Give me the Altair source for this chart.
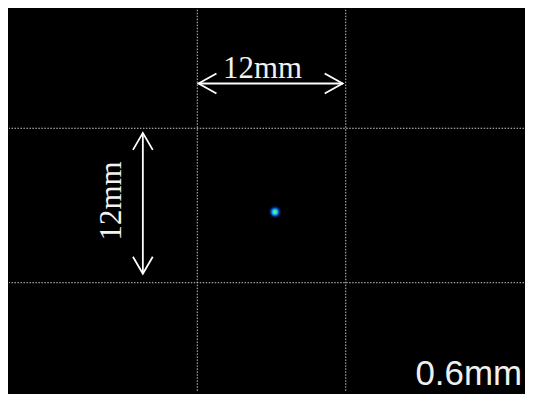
import altair as alt
import pandas as pd

# grid positions (mm)
grid_x = [-6, 6]
grid_y = [-6, 6]

# beam spot (mm)
spot_x = [0.28]
spot_y = [-0.50]

# horizontal 12mm arrow (mm)
h_arrow_x = [-5.9, 5.75]
h_arrow_y = 9.48
h_head_dx = 1.45
h_head_dy = 0.78

# vertical 12mm arrow (mm)
v_arrow_x = -10.4
v_arrow_y = [-5.3, 5.64]
v_head_dx = 0.8
v_head_dy = 1.32

labels_text = ["12mm", "12mm", "0.6mm"]
labels_x = [-0.73, -12.9, 20.25]
labels_y = [9.87, 0.35, -13.97]

X_DOM = [-21.22, 20.41]
Y_DOM = [-14.51, 15.21]

xs = alt.Scale(domain=X_DOM, nice=False, zero=False)
ys = alt.Scale(domain=Y_DOM, nice=False, zero=False)

# grid rules
vgrid = alt.Chart(pd.DataFrame({"x": grid_x})).mark_rule(
    color="#c8c8c8", strokeDash=[1.5, 1.5], strokeWidth=1
).encode(x=alt.X("x:Q", scale=xs, axis=None))
hgrid = alt.Chart(pd.DataFrame({"y": grid_y})).mark_rule(
    color="#c8c8c8", strokeDash=[1.5, 1.5], strokeWidth=1
).encode(y=alt.Y("y:Q", scale=ys, axis=None))

# arrows as line segments
segs = []
x0, x1 = h_arrow_x
y = h_arrow_y
segs += [("h", x0, y, 0), ("h", x1, y, 1)]
segs += [("hl", x0 + h_head_dx, y + h_head_dy, 0), ("hl", x0, y, 1), ("hl", x0 + h_head_dx, y - h_head_dy, 2)]
segs += [("hr", x1 - h_head_dx, y + h_head_dy, 0), ("hr", x1, y, 1), ("hr", x1 - h_head_dx, y - h_head_dy, 2)]
xv = v_arrow_x
y0, y1 = v_arrow_y
segs += [("v", xv, y0, 0), ("v", xv, y1, 1)]
segs += [("vt", xv - v_head_dx, y1 - v_head_dy, 0), ("vt", xv, y1, 1), ("vt", xv + v_head_dx, y1 - v_head_dy, 2)]
segs += [("vb", xv - v_head_dx, y0 + v_head_dy, 0), ("vb", xv, y0, 1), ("vb", xv + v_head_dx, y0 + v_head_dy, 2)]
seg_df = pd.DataFrame(segs, columns=["id", "x", "y", "o"])

arrows = alt.Chart(seg_df).mark_line(color="white", strokeWidth=1.8).encode(
    x=alt.X("x:Q", scale=xs, axis=None),
    y=alt.Y("y:Q", scale=ys, axis=None),
    detail="id:N",
    order="o:Q",
)

lab_df = pd.DataFrame({"t": labels_text, "x": labels_x, "y": labels_y})
htext = alt.Chart(lab_df.iloc[[0]]).mark_text(
    font="Liberation Serif", fontSize=31, color="#f2f2f2", align="center", baseline="alphabetic"
).encode(x=alt.X("x:Q", scale=xs, axis=None), y=alt.Y("y:Q", scale=ys, axis=None), text="t:N")
vtext = alt.Chart(lab_df.iloc[[1]]).mark_text(
    font="Liberation Serif", fontSize=31, color="#f2f2f2", align="center", baseline="middle", angle=270
).encode(x=alt.X("x:Q", scale=xs, axis=None), y=alt.Y("y:Q", scale=ys, axis=None), text="t:N")
stext = alt.Chart(lab_df.iloc[[2]]).mark_text(
    font="Liberation Sans", fontSize=35, color="#f0f0f0", align="right", baseline="alphabetic"
).encode(x=alt.X("x:Q", scale=xs, axis=None), y=alt.Y("y:Q", scale=ys, axis=None), text="t:N")

spot_df = pd.DataFrame({"x": spot_x, "y": spot_y})
def spot(size, color, opacity):
    return alt.Chart(spot_df).mark_circle(size=size, color=color, opacity=opacity).encode(
        x=alt.X("x:Q", scale=xs, axis=None), y=alt.Y("y:Q", scale=ys, axis=None)
    )

spot_layers = [spot(150, "#001a60", 0.6), spot(90, "#0040b0", 0.85), spot(55, "#0080ff", 1.0),
               spot(30, "#20c0c0", 1.0), spot(16, "#50f090", 1.0)]

chart = alt.layer(vgrid, hgrid, arrows, htext, vtext, stext, *spot_layers).properties(
    width=517, height=384, background="black", padding=0
).configure_view(stroke=None)

chart.save("out.html", embed_options={"renderer": "svg", "actions": False})
